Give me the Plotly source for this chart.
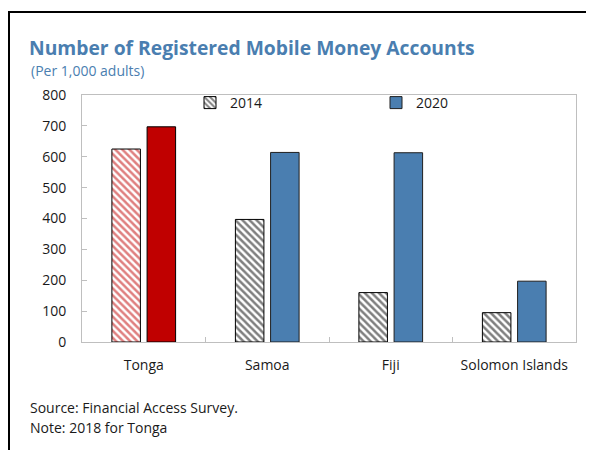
import plotly.graph_objects as go

categories = ["Tonga", "Samoa", "Fiji", "Solomon Islands"]
values_2014 = [625, 397, 160, 95]
values_2020 = [697, 614, 613, 197]
series_names = ["2014", "2020"]

title_text = "Number of Registered Mobile Money Accounts"
subtitle_text = "(Per 1,000 adults)"
source_text = "Source: Financial Access Survey."
note_text = "Note: 2018 for Tonga"

BLUE = "#4a7eb0"
RED = "#c00000"
FONT = "Open Sans"

OFF = 8  # page body margin
W, H = 594, 450
L, R, T, B = 74, 26, 87, 116
pw, ph = W - L - R, H - T - B


def px(x):
    return (x - OFF - L) / pw


def py(y):
    return (H - B - (y - OFF)) / ph


fig = go.Figure()

# Highlighted first category (Tonga) in red
fig.add_trace(go.Bar(
    x=categories[:1], y=values_2014[:1], name=series_names[0], offsetgroup="a",
    showlegend=False,
    marker=dict(color="white", line=dict(color="black", width=1),
                pattern=dict(shape="\\", fgcolor=RED, bgcolor="white", size=5, solidity=0.5)),
))
fig.add_trace(go.Bar(
    x=categories[:1], y=values_2020[:1], name=series_names[1], offsetgroup="b",
    showlegend=False,
    marker=dict(color=RED, line=dict(color="black", width=1)),
))
# Other categories
fig.add_trace(go.Bar(
    x=categories[1:], y=values_2014[1:], name=series_names[0], offsetgroup="a",
    marker=dict(color="white", line=dict(color="black", width=1),
                pattern=dict(shape="\\", fgcolor="black", bgcolor="white", size=5, solidity=0.5)),
))
fig.add_trace(go.Bar(
    x=categories[1:], y=values_2020[1:], name=series_names[1], offsetgroup="b",
    marker=dict(color=BLUE, line=dict(color="#1f1f1f", width=1)),
))

fig.update_layout(
    width=W, height=H,
    margin=dict(l=L, r=R, t=T, b=B, autoexpand=False),
    paper_bgcolor="white", plot_bgcolor="white",
    font=dict(family=FONT, size=14, color="#1a1a1a"),
    barmode="group", bargap=0.43, bargroupgap=0.19,
    title=dict(text="<b>" + title_text + "</b>", x=(29 - OFF) / W, xanchor="left", xref="container",
               y=1 - (48 - OFF) / H, yanchor="middle", yref="container",
               font=dict(family=FONT, size=19.3, color=BLUE)),
    legend=dict(orientation="h", x=px(190), xanchor="left", y=1.0 + 8 / ph, yanchor="top",
                bgcolor="rgba(0,0,0,0)", font=dict(size=14, color="#1a1a1a"),
                entrywidth=141, entrywidthmode="pixels", traceorder="normal"),
    xaxis=dict(categoryorder="array", categoryarray=categories,
               showline=True, linecolor="#bfbfbf", linewidth=1, mirror=True,
               ticks="inside", tickson="boundaries", ticklen=5, tickcolor="#bfbfbf",
               showgrid=False, ticklabelstandoff=10),
    yaxis=dict(range=[0, 800], dtick=100, showline=True, linecolor="#bfbfbf", linewidth=1,
               mirror=True, ticks="inside", ticklen=5, tickcolor="#bfbfbf",
               showgrid=False, zeroline=False, ticklabelstandoff=12),
    shapes=[dict(type="rect", xref="paper", yref="paper",
                 x0=px(9), x1=px(W + 20), y0=py(H + 20), y1=py(12),
                 line=dict(color="black", width=2), fillcolor="rgba(0,0,0,0)", layer="below")],
    annotations=[
        dict(text=subtitle_text, xref="paper", yref="paper", x=px(29), y=py(71),
             xanchor="left", yanchor="middle", showarrow=False,
             font=dict(family=FONT, size=14, color=BLUE)),
        dict(text=source_text, xref="paper", yref="paper", x=px(28), y=py(407),
             xanchor="left", yanchor="middle", showarrow=False,
             font=dict(family=FONT, size=14, color="#1a1a1a")),
        dict(text=note_text, xref="paper", yref="paper", x=px(28), y=py(427),
             xanchor="left", yanchor="middle", showarrow=False,
             font=dict(family=FONT, size=14, color="#1a1a1a")),
    ],
)

fig.write_html("out.html")
